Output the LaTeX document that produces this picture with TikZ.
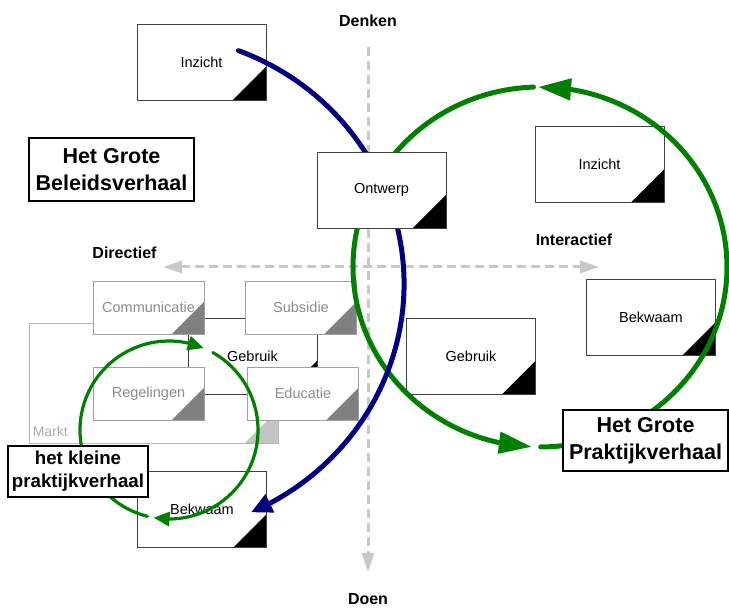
\documentclass[tikz,border=0pt]{standalone}
\usepackage{fontspec}
\setmainfont{Liberation Sans}
\usetikzlibrary{arrows.meta,bending,calc}

\definecolor{axisgray}{HTML}{C8C8C8}
\definecolor{boxedge}{HTML}{404040}
\definecolor{dimedge}{HTML}{A0A0A0}
\definecolor{dimtext}{HTML}{8C8C8C}
\definecolor{dimtri}{HTML}{808080}
\definecolor{faintedge}{HTML}{B8B8B8}
\definecolor{fainttext}{HTML}{ADADAD}
\definecolor{fainttri}{HTML}{C4C4C4}
\definecolor{loopgreen}{HTML}{008000}
\definecolor{arcnavy}{HTML}{000080}

\tikzset{
  corner/.style 2 args={path picture={
    \fill[#1] (path picture bounding box.south east) -- ++(-#2,0) -- ++(#2,#2) -- cycle;}},
  card/.style={draw=boxedge, line width=0.8pt, fill=white, minimum width=129pt,
    minimum height=76pt, inner sep=0pt, font=\fontsize{14.5}{17}\selectfont,
    corner={black}{33pt}},
  dimcard/.style={draw=dimedge, line width=0.8pt, fill=white, text=dimtext,
    minimum width=111pt, minimum height=53pt, inner sep=0pt,
    font=\fontsize{14.5}{17}\selectfont, corner={dimtri}{32pt}},
  title/.style={draw=black, line width=1.2pt, fill=white, inner sep=0pt, align=center,
    font=\bfseries\fontsize{21.5}{27}\selectfont},
  axislabel/.style={font=\bfseries\fontsize{16}{19}\selectfont},
  axis/.style={draw=axisgray, line width=3pt, dash pattern=on 9pt off 5pt},
  axistip/.tip={Triangle[length=19pt,width=12pt]},
  bigloop/.style={draw=loopgreen, line width=5pt, line cap=round,
    -{Triangle[length=33pt,width=21pt]}},
  smallloop/.style={draw=loopgreen, line width=3.2pt, line cap=round,
    -{Triangle[length=16pt,width=14pt]}},
  navyarc/.style={draw=arcnavy, line width=5pt, line cap=round,
    -{Triangle[length=21pt,width=19pt]}},
}

\begin{document}
\begin{tikzpicture}[x=1pt,y=1pt]
\useasboundingbox (0,0) rectangle (729,609);

% thinking/doing and directive/interactive axes
\coordinate (vtop) at (368,562);
\coordinate (vbot) at (368,37);
\coordinate (hl) at (163,342);
\coordinate (hr) at (599,342);
\draw[axis, -axistip] (vtop) -- (vbot);
\draw[axis, axistip-axistip] (hl) -- (hr);

\node[axislabel] (denken) at (368,588) {Denken};
\node[axislabel] (doen) at (368,9.5) {Doen};
\node[axislabel] (direct) at (124.5,356) {Directief};
\node[axislabel] (interact) at (574,369) {Interactief};

% cards lying under the loops
\node[card] (inzA) at (201.5,547) {Inzicht};
\node[card] (inzB) at (599.5,444.5) {Inzicht};
\node[card] (gebB) at (471,253) {Gebruik};
\node[card] (bekB) at (651,291.5) {Bekwaam};
\node[card] (bekA) at (202,99.5) {Bekwaam};

% market cluster
\node[draw=faintedge, line width=0.8pt, fill=white, minimum width=249pt,
  minimum height=120pt, inner sep=0pt, corner={fainttri}{33pt}] (markt) at (153.5,226) {};
\node[anchor=west, inner sep=0pt, text=fainttext, font=\fontsize{14}{17}\selectfont]
  (marktlbl) at ($(markt.south west)+(4pt,12pt)$) {Markt};
\node[card] (gebA) at (252.5,253) {Gebruik};
\node[dimcard] (comm) at (148.5,301.5) {Communicatie};
\node[dimcard] (subs) at (301,301.5) {Subsidie};
\node[dimcard] (regl) at (148.5,215.5) {Regelingen};
\node[dimcard] (educ) at (303,215.5) {Educatie};

% large practice loop
\coordinate (bigc) at (540,342);
\draw[bigloop] (bigc) ++(92:187pt and 180pt)
  arc[start angle=92, end angle=267.5, x radius=187pt, y radius=180pt];
\draw[bigloop] (bigc) ++(270.2:187pt and 180pt)
  arc[start angle=270.2, end angle=450.6, x radius=187pt, y radius=180pt];

% policy arc from insight down to competence
\coordinate (navyc) at (146,325);
\draw[navyarc] (navyc) ++(69:258pt and 250pt)
  arc[start angle=69, end angle=-66, x radius=258pt, y radius=250pt];

% small practice loop
\coordinate (smallc) at (169,179);
\draw[smallloop] (smallc) ++(60.5:89pt) arc[start angle=60.5, end angle=-100, radius=89pt];
\draw[smallloop] (smallc) ++(-104:89pt) arc[start angle=-104, end angle=-293, radius=89pt];

% cards and titles lying on top
\node[card] (ontw) at (381.5,419) {Ontwerp};
\node[title, minimum width=165pt, minimum height=63pt] (beleid) at (111.5,439.5)
  {Het Grote\\Beleidsverhaal};
\node[title, minimum width=165pt, minimum height=61pt] (praktijk) at (645.5,168.5)
  {Het Grote\\Praktijkverhaal};
\node[title, minimum width=140pt, minimum height=51pt,
  font=\bfseries\fontsize{18.7}{23}\selectfont] (klein) at (78,137.5)
  {het kleine\\praktijkverhaal};
\end{tikzpicture}
\end{document}
